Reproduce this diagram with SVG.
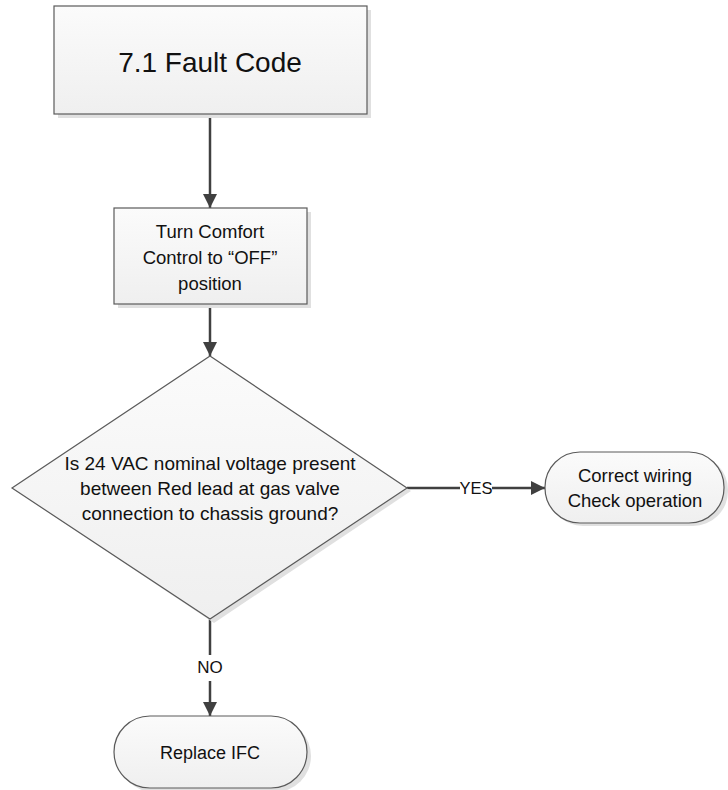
<svg xmlns="http://www.w3.org/2000/svg" width="728" height="790" viewBox="0 0 728 790">
<defs>
<linearGradient id="g" x1="0" y1="0" x2="0" y2="1">
<stop offset="0" stop-color="#fbfbfb"/>
<stop offset="1" stop-color="#efefef"/>
</linearGradient>
<marker id="ah" viewBox="0 0 14 14" refX="14" refY="7" markerWidth="14" markerHeight="14" markerUnits="userSpaceOnUse" orient="auto">
<path d="M0,0 L14,7 L0,14 Z" fill="#404040"/>
</marker>
<style>
.shape{fill:url(#g);stroke:#5a5a5a;stroke-width:1.2}
.shadow{fill:#e0e0e0;stroke:none}
.t{font-family:"Liberation Sans",Arial,sans-serif;fill:#111;text-anchor:middle}
.c{stroke:#404040;stroke-width:2.5;fill:none}
</style>
</defs>
<rect width="728" height="790" fill="#ffffff"/>
<g id="connectors">
<line class="c" x1="210" y1="114" x2="210" y2="208" marker-end="url(#ah)"/>
<line class="c" x1="210" y1="304" x2="210" y2="356" marker-end="url(#ah)"/>
<line class="c" x1="407" y1="488" x2="460" y2="488"/>
<line class="c" x1="492" y1="488" x2="545" y2="488" marker-end="url(#ah)"/>
<text class="t" x="476" y="494" font-size="16.5">YES</text>
<line class="c" x1="210" y1="619" x2="210" y2="655"/>
<line class="c" x1="210" y1="681" x2="210" y2="716" marker-end="url(#ah)"/>
<text class="t" x="210" y="673" font-size="17">NO</text>
</g>
<g id="fault-code">
<rect class="shadow" x="58" y="10" width="313" height="108"/>
<rect class="shape" x="54" y="6" width="313" height="108"/>
<text class="t" x="210" y="72" font-size="28">7.1 Fault Code</text>
</g>
<g id="turn-off">
<rect class="shadow" x="118" y="212" width="193" height="96"/>
<rect class="shape" x="114" y="208" width="193" height="96"/>
<text class="t" x="210" y="238" font-size="18.5">Turn Comfort</text>
<text class="t" x="210" y="264" font-size="18.5">Control to “OFF”</text>
<text class="t" x="210" y="290" font-size="18.5">position</text>
</g>
<g id="decision">
<polygon class="shadow" points="214,360 411,491 214,623 16,491"/>
<polygon class="shape" points="210,356 407,488 210,619 12,488"/>
<text class="t" x="210" y="470" font-size="19">Is 24 VAC nominal voltage present</text>
<text class="t" x="210" y="495" font-size="19">between Red lead at gas valve</text>
<text class="t" x="210" y="520" font-size="19">connection to chassis ground?</text>
</g>
<g id="correct-wiring">
<rect class="shadow" x="548" y="455" width="180" height="71" rx="35" ry="35"/>
<rect class="shape" x="545" y="452" width="179" height="71" rx="35" ry="35"/>
<text class="t" x="635" y="482" font-size="18.5">Correct wiring</text>
<text class="t" x="635" y="507" font-size="18.5">Check operation</text>
</g>
<g id="replace-ifc">
<rect class="shadow" x="118" y="720" width="193" height="72" rx="36" ry="36"/>
<rect class="shape" x="114" y="716" width="193" height="72" rx="36" ry="36"/>
<text class="t" x="210" y="759" font-size="18">Replace IFC</text>
</g>
</svg>
